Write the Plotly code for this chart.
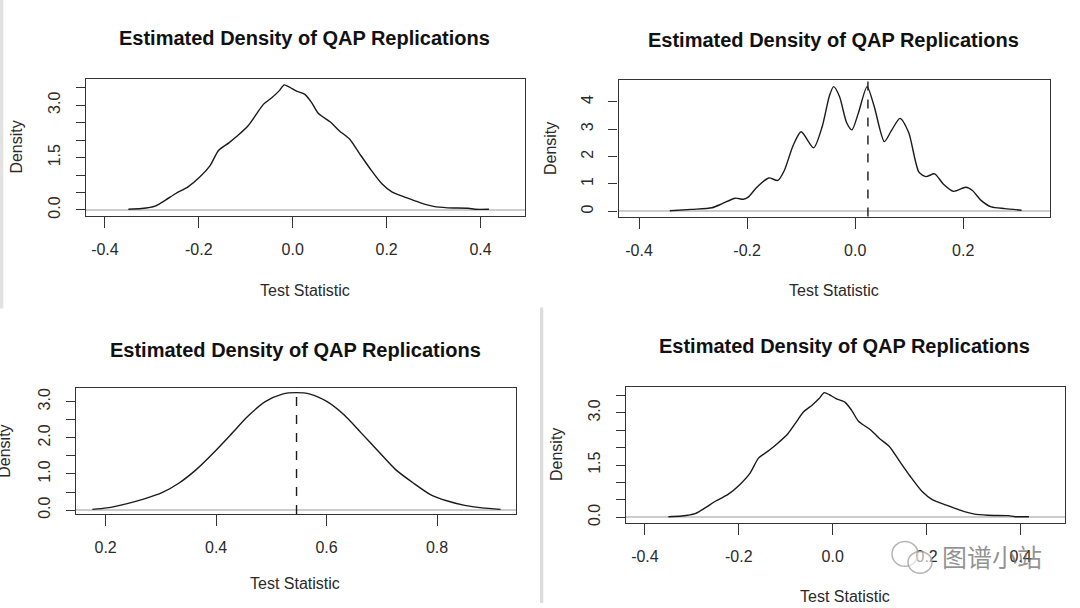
import plotly.graph_objects as go

# ---------------- data ----------------
# Panels 1 and 4 (identical density estimate)
dens_a_x = [-0.350, -0.322, -0.293, -0.271, -0.249, -0.223, -0.198, -0.176, -0.158, -0.136,
            -0.117, -0.095, -0.077, -0.062, -0.044, -0.029, -0.018, -0.007, 0.007, 0.026,
            0.040, 0.055, 0.081, 0.099, 0.121, 0.143, 0.165, 0.190, 0.212, 0.242,
            0.271, 0.300, 0.330, 0.374, 0.388, 0.418]
dens_a_y = [0.02, 0.04, 0.11, 0.28, 0.47, 0.66, 0.94, 1.27, 1.70, 1.92,
            2.13, 2.41, 2.75, 3.03, 3.22, 3.41, 3.58, 3.52, 3.41, 3.31,
            3.08, 2.76, 2.51, 2.27, 2.03, 1.60, 1.18, 0.75, 0.51, 0.35,
            0.21, 0.10, 0.06, 0.05, 0.02, 0.02]

# Panel 2 (multi-modal)
dens_b_x = [-0.343, -0.303, -0.265, -0.246, -0.222, -0.207, -0.198, -0.182, -0.160, -0.143,
            -0.131, -0.115, -0.100, -0.077, -0.061, -0.048, -0.040, -0.029, -0.016, -0.006,
            0.006, 0.022, 0.035, 0.054, 0.067, 0.083, 0.099, 0.118, 0.131, 0.147,
            0.163, 0.182, 0.205, 0.217, 0.233, 0.252, 0.277, 0.308]
dens_b_y = [0.02, 0.07, 0.13, 0.28, 0.48, 0.44, 0.52, 0.88, 1.22, 1.13,
            1.50, 2.40, 2.91, 2.32, 3.10, 4.20, 4.56, 4.20, 3.25, 2.98,
            3.60, 4.56, 3.85, 2.55, 2.95, 3.40, 2.88, 1.43, 1.27, 1.37,
            1.00, 0.73, 0.88, 0.76, 0.40, 0.16, 0.10, 0.04]
test_b = 0.0236

# Panel 3 (smooth, unimodal)
dens_c_x = [0.176, 0.202, 0.239, 0.270, 0.302, 0.333, 0.364, 0.395, 0.426, 0.457,
            0.489, 0.520, 0.545, 0.570, 0.601, 0.632, 0.663, 0.694, 0.725, 0.757,
            0.788, 0.819, 0.850, 0.881, 0.915]
dens_c_y = [0.02, 0.06, 0.18, 0.31, 0.48, 0.75, 1.12, 1.58, 2.08, 2.59,
            3.00, 3.21, 3.25, 3.21, 3.00, 2.63, 2.13, 1.62, 1.12, 0.75,
            0.43, 0.25, 0.13, 0.06, 0.02]
test_c = 0.5456

xticks_a = [-0.4, -0.2, 0.0, 0.2, 0.4]
xticks_a_text = ["-0.4", "-0.2", "0.0", "0.2", "0.4"]
xticks_b = [-0.4, -0.2, 0.0, 0.2]
xticks_b_text = ["-0.4", "-0.2", "0.0", "0.2"]
xticks_c = [0.2, 0.4, 0.6, 0.8]
xticks_c_text = ["0.2", "0.4", "0.6", "0.8"]
yticks_a = [0.0, 0.5, 1.0, 1.5, 2.0, 2.5, 3.0, 3.5]
yticks_a_text = ["0.0", "", "", "1.5", "", "", "3.0", ""]
yticks_b = [0, 1, 2, 3, 4]
yticks_b_text = ["0", "1", "2", "3", "4"]
yticks_c = [0.0, 0.5, 1.0, 1.5, 2.0, 2.5, 3.0]
yticks_c_text = ["0.0", "", "1.0", "", "2.0", "", "3.0"]

TITLE = "Estimated Density of QAP Replications"
XLAB = "Test Statistic"
YLAB = "Density"

W, H = 1080, 608
FONT = "Liberation Sans, Arial, sans-serif"

def px(x):
    return x / W

def py(y):
    return 1 - y / H

panels = [
    dict(xd=[85.75, 524.5], yd=[80, 217.3], xr=[-0.4408, 0.4937], yr=[-0.16, 3.74],
         x=dens_a_x, y=dens_a_y, xt=xticks_a, xtt=xticks_a_text, yt=yticks_a, ytt=yticks_a_text,
         test=None, title=(304.8, 38.5), xlab=(304.8, 292.7), ylab=(16.5, 148.3)),
    dict(xd=[618.5, 1049.7], yd=[81, 218.3], xr=[-0.438, 0.36], yr=[-0.19, 4.79],
         x=dens_b_x, y=dens_b_y, xt=xticks_b, xtt=xticks_b_text, yt=yticks_b, ytt=yticks_b_text,
         test=test_b, title=(833.6, 40), xlab=(834.4, 293.3), ylab=(550.3, 150)),
    dict(xd=[75.8, 515.5], yd=[391, 518.3], xr=[0.146, 0.942], yr=[-0.11, 3.385],
         x=dens_c_x, y=dens_c_y, xt=xticks_c, xtt=xticks_c_text, yt=yticks_c, ytt=yticks_c_text,
         test=test_c, title=(295.3, 352.7), xlab=(295.3, 588.3), ylab=(4.5, 455)),
    dict(xd=[625.75, 1064.5], yd=[390.3, 527.3], xr=[-0.4408, 0.4937], yr=[-0.16, 3.74],
         x=dens_a_x, y=dens_a_y, xt=xticks_a, xtt=xticks_a_text, yt=yticks_a, ytt=yticks_a_text,
         test=None, title=(844.8, 349.3), xlab=(844.8, 601.7), ylab=(556.5, 458.3)),
]

fig = go.Figure()
annotations = []
shapes = []
layout = {}

for i, p in enumerate(panels, start=1):
    xa = "x" if i == 1 else f"x{i}"
    ya = "y" if i == 1 else f"y{i}"
    fig.add_trace(go.Scatter(x=p["x"], y=p["y"], mode="lines",
                             line=dict(color="#1a1a1a", width=1.4, shape="spline", smoothing=0.7),
                             xaxis=xa, yaxis=ya, showlegend=False, hoverinfo="skip"))
    xkey = "xaxis" if i == 1 else f"xaxis{i}"
    ykey = "yaxis" if i == 1 else f"yaxis{i}"
    layout[xkey] = dict(domain=[px(p["xd"][0]), px(p["xd"][1])], range=p["xr"], anchor=ya,
                        showgrid=False, zeroline=False, showline=True, mirror=True,
                        linecolor="#333333", linewidth=1.4,
                        ticks="outside", ticklen=11, tickwidth=1.4, tickcolor="#333333",
                        tickvals=p["xt"], ticktext=p["xtt"], ticklabelstandoff=8,
                        tickfont=dict(family=FONT, size=16, color="#2a2a2a"), fixedrange=True)
    layout[ykey] = dict(domain=[py(p["yd"][1]), py(p["yd"][0])], range=p["yr"], anchor=xa,
                        showgrid=False, zeroline=True, zerolinecolor="#cccccc", zerolinewidth=1.5,
                        showline=True, mirror=True, linecolor="#333333", linewidth=1.4,
                        ticks="outside", ticklen=9, tickwidth=1.4, tickcolor="#333333",
                        tickvals=p["yt"], ticktext=p["ytt"], tickangle=-90, ticklabelstandoff=9,
                        tickfont=dict(family=FONT, size=16, color="#2a2a2a"), fixedrange=True)
    if p["test"] is not None:
        shapes.append(dict(type="line", xref=xa, yref=f"{ya} domain", x0=p["test"], x1=p["test"],
                           y0=0, y1=1, line=dict(color="#1a1a1a", width=1.4, dash="dash")))
    annotations.append(dict(text=f"<b>{TITLE}</b>", xref="paper", yref="paper",
                            x=px(p["title"][0]), y=py(p["title"][1]), xanchor="center", yanchor="middle",
                            showarrow=False, font=dict(family=FONT, size=20, color="#111111")))
    annotations.append(dict(text=XLAB, xref="paper", yref="paper",
                            x=px(p["xlab"][0]), y=py(p["xlab"][1]), xanchor="center", yanchor="middle",
                            showarrow=False, font=dict(family=FONT, size=16, color="#2a2a2a")))
    annotations.append(dict(text=YLAB, xref="paper", yref="paper", textangle=-90,
                            x=px(p["ylab"][0]), y=py(p["ylab"][1]), xanchor="center", yanchor="middle",
                            showarrow=False, font=dict(family=FONT, size=16, color="#2a2a2a")))

# separators of the screenshot collage
shapes.append(dict(type="rect", xref="paper", yref="paper", x0=0, x1=px(3.3), y0=py(311), y1=1,
                   fillcolor="#e2e2e2", line=dict(width=0), layer="below"))
shapes.append(dict(type="rect", xref="paper", yref="paper", x0=px(540), x1=px(543.3), y0=0, y1=py(310),
                   fillcolor="#dcdcdc", line=dict(width=0), layer="below"))

# watermark
shapes.append(dict(type="circle", xref="paper", yref="paper", x0=px(892), x1=px(918), y0=py(571), y1=py(546),
                   line=dict(color="rgba(150,150,150,0.7)", width=1.5)))
shapes.append(dict(type="circle", xref="paper", yref="paper", x0=px(908), x1=px(932), y0=py(578), y1=py(556),
                   line=dict(color="rgba(150,150,150,0.7)", width=1.5), fillcolor="rgba(255,255,255,0.6)"))
annotations.append(dict(text="图谱小站", xref="paper", yref="paper", x=px(992), y=py(561),
                        xanchor="center", yanchor="middle", showarrow=False,
                        font=dict(family="Noto Sans CJK SC", size=25, color="rgba(110,110,110,0.75)")))

fig.update_layout(width=W, height=H, margin=dict(l=0, r=0, t=0, b=0),
                  paper_bgcolor="white", plot_bgcolor="white",
                  annotations=annotations, shapes=shapes, **layout)

fig.write_html("out.html", config={"displayModeBar": False},
               post_script="document.body.style.margin='0';document.body.style.overflow='hidden';")
